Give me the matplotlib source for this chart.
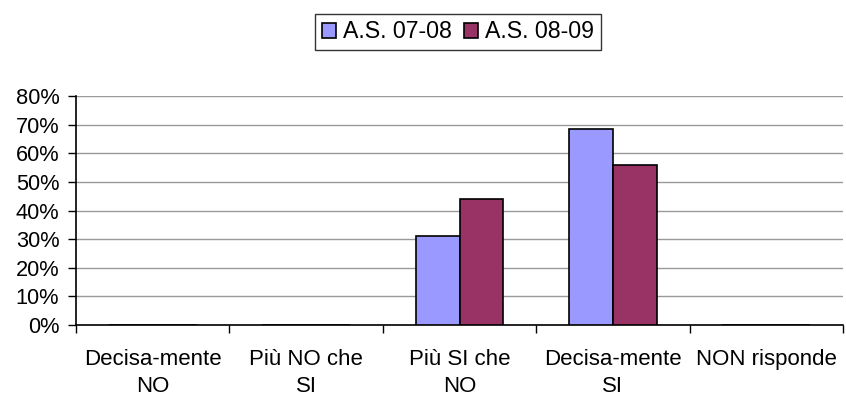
import numpy as np
import matplotlib.pyplot as plt
from matplotlib.patches import Patch
from matplotlib.ticker import FixedLocator, PercentFormatter

plt.rcParams['font.family'] = ['Liberation Sans', 'DejaVu Sans']

# dati
categorie = ['Decisa-mente\nNO', 'Più NO che\nSI', 'Più SI che\nNO', 'Decisa-mente\nSI', 'NON risponde']
serie = ['A.S. 07-08', 'A.S. 08-09']
as_0708 = [0.0, 0.0, 31.2, 68.6, 0.0]
as_0809 = [0.0, 0.0, 44.0, 56.0, 0.0]
colori = ['#9999FF', '#993366']

fs = 16

fig = plt.figure(figsize=(8.46, 4.04), dpi=100)
ax = fig.add_axes([76 / 846, 1 - 325 / 404, 767 / 846, 229 / 404])

x = np.arange(len(categorie))
w = 1 / 3.5  # gap width 150%
for k, vals in enumerate([as_0708, as_0809]):
    ax.bar(x + (k - 0.5) * w, vals, width=w, color=colori[k],
           edgecolor='black', linewidth=1.2, zorder=3)

ax.set_xlim(-0.5, len(categorie) - 0.5)
ax.set_ylim(0, 80)
ax.set_yticks(np.arange(0, 81, 10))
ax.yaxis.set_major_formatter(PercentFormatter(decimals=0))
ax.grid(axis='y', color='#999999', linewidth=1, zorder=0)

ax.set_xticks(x)
ax.set_xticklabels(categorie, fontsize=fs, linespacing=1.4)
ax.tick_params(axis='x', which='major', length=0, pad=17)
ax.xaxis.set_minor_locator(FixedLocator(np.arange(-0.5, len(categorie), 1)))
ax.tick_params(axis='x', which='minor', length=5.5, width=1, direction='out')
ax.tick_params(axis='y', length=6, width=1, direction='out', labelsize=fs - 0.3, pad=6)

for s in ['top', 'right']:
    ax.spines[s].set_visible(False)
ax.spines['left'].set_linewidth(1.2)
ax.spines['bottom'].set_linewidth(1.2)

handles = [Patch(facecolor=c, edgecolor='black', linewidth=1.2) for c in colori]
leg = fig.legend(handles, serie, loc='center', bbox_to_anchor=(458 / 846, 1 - 32 / 404),
                 ncol=2, fontsize=fs + 0.7, frameon=True, fancybox=False,
                 handlelength=0.6, handleheight=0.6, handletextpad=0.3,
                 columnspacing=0.5, borderpad=0.3, borderaxespad=0)
leg.get_frame().set_edgecolor('black')
leg.get_frame().set_linewidth(1.0)

fig.savefig('out.png', dpi=100)
